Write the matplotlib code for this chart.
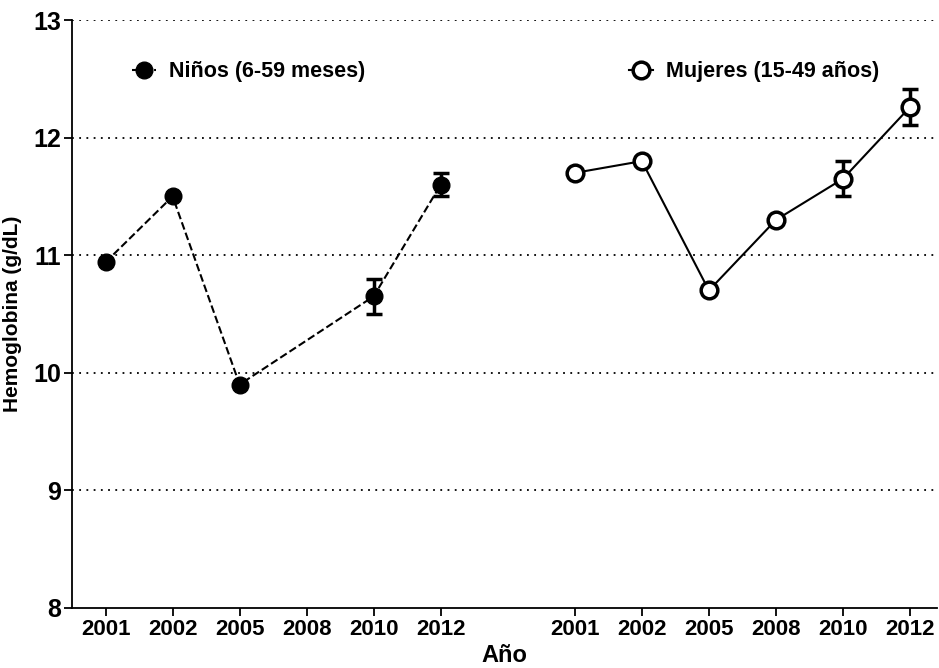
import matplotlib
matplotlib.use('Agg')
import matplotlib.pyplot as plt
from matplotlib.lines import Line2D

plt.rcParams['font.family'] = ['Liberation Sans', 'DejaVu Sans']
plt.rcParams['font.weight'] = 'bold'

years = ['2001', '2002', '2005', '2008', '2010', '2012']

# Niños (6-59 meses) - no 2008 value
ninos_years = ['2001', '2002', '2005', '2010', '2012']
ninos_hb = [10.94, 11.5, 9.9, 10.65, 11.6]
ninos_err = [0.0, 0.0, 0.0, 0.15, 0.1]

# Mujeres (15-49 años)
mujeres_years = ['2001', '2002', '2005', '2008', '2010', '2012']
mujeres_hb = [11.7, 11.8, 10.7, 11.3, 11.65, 12.26]
mujeres_err = [0.0, 0.0, 0.0, 0.0, 0.15, 0.15]

# x positions: two groups separated by a gap of one slot
left_pos = {y: i for i, y in enumerate(years)}
right_pos = {y: i + len(years) + 1 for i, y in enumerate(years)}

fig = plt.figure(figsize=(9.39, 6.68), dpi=100)
ax = fig.add_axes([0.0767, 0.09, 0.921, 0.88])

xn = [left_pos[y] for y in ninos_years]
xm = [right_pos[y] for y in mujeres_years]

ax.errorbar(xn, ninos_hb, yerr=ninos_err, fmt='o', ls='--', color='black',
            lw=1.5, ms=12, elinewidth=2.5, capsize=5.5, capthick=2.5, zorder=3)
ax.errorbar(xm, mujeres_hb, yerr=mujeres_err, fmt='o', ls='-', color='black',
            mfc='white', mec='black', mew=2.5, lw=1.5, ms=12,
            elinewidth=2.5, capsize=5.5, capthick=2.5, zorder=3)

ax.set_ylim(8, 13)
ax.set_xlim(-0.5, 12.4)
ax.set_yticks([8, 9, 10, 11, 12, 13])
ax.set_xticks(list(left_pos.values()) + list(right_pos.values()))
ax.set_xticklabels(years + years)

for v in [9, 10, 11, 12, 13]:
    ax.axhline(v, color='black', ls=(0, (1, 3)), lw=1.3, zorder=1)

ax.spines['top'].set_visible(False)
ax.spines['right'].set_visible(False)
ax.spines['left'].set_linewidth(1.3)
ax.spines['bottom'].set_linewidth(1.3)
ax.tick_params(axis='y', labelsize=18, length=6, width=1.3, pad=2)
ax.tick_params(axis='x', labelsize=16, length=6, width=1.3, pad=2)

ax.set_ylabel('Hemoglobina (g/dL)', fontsize=15, fontweight='bold', labelpad=8)
ax.set_xlabel('Año', fontsize=17, fontweight='bold', labelpad=3)

h1 = Line2D([], [], color='black', ls='--', lw=1.5, marker='o', ms=12)
h2 = Line2D([], [], color='black', ls='-', lw=1.5, marker='o', ms=12,
            mfc='white', mec='black', mew=2.5)
leg1 = ax.legend(handles=[h1], labels=['Niños (6-59 meses)'], loc='center left',
                 bbox_to_anchor=(0.047, 0.912), frameon=False, fontsize=15.5,
                 handlelength=1.1, handletextpad=0.6)
ax.add_artist(leg1)
ax.legend(handles=[h2], labels=['Mujeres (15-49 años)'], loc='center left',
          bbox_to_anchor=(0.622, 0.912), frameon=False, fontsize=15.5,
          handlelength=1.1, handletextpad=0.6)

fig.savefig('out.png', dpi=100)
